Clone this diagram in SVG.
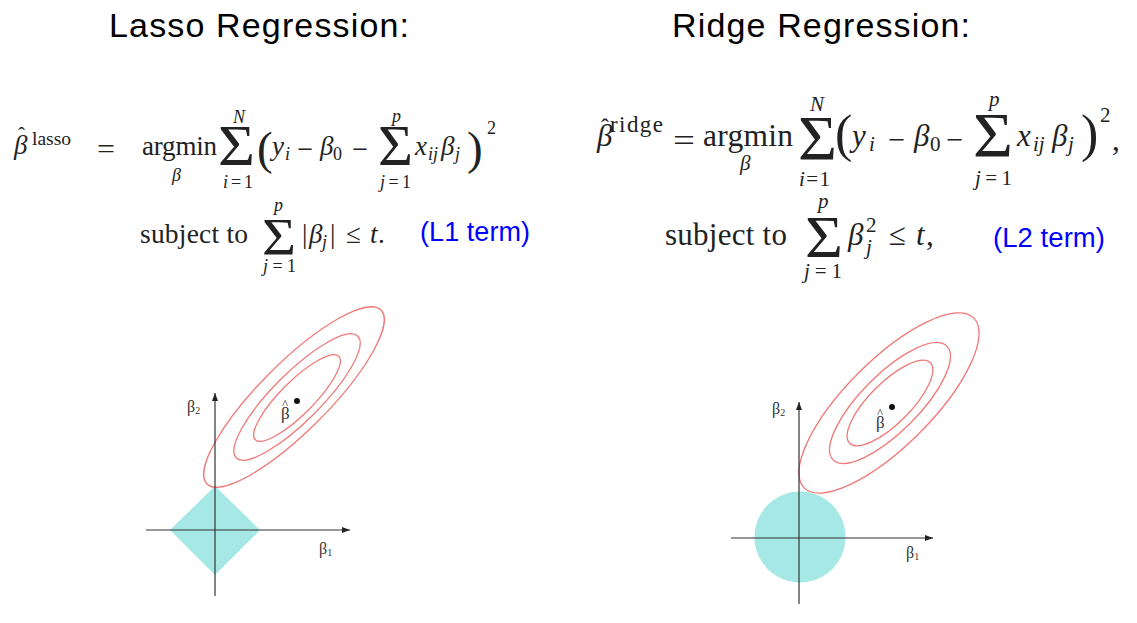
<svg xmlns="http://www.w3.org/2000/svg" width="1137" height="623" viewBox="0 0 1137 623">
<style>
.title{font-family:"Liberation Sans",Arial,sans-serif;font-size:34px;fill:#000}
.m{font-family:"Liberation Serif","Times New Roman",serif;fill:#222}
.it{font-style:italic}
.note{font-family:"Liberation Sans",Arial,sans-serif;fill:#0000ff}
.ax{stroke:#333;stroke-width:1.2;fill:none}
.ell{stroke:#f07878;stroke-width:1.3;fill:none}
.reg{fill:#a6e8e5;stroke:none}
.lbl{font-family:"Liberation Serif","Times New Roman",serif;fill:#333}
</style>
<defs>
<marker id="arr" markerWidth="9" markerHeight="7" refX="8" refY="3" orient="auto" markerUnits="userSpaceOnUse">
<path d="M0,0 L8,3 L0,6 z" fill="#222"/>
</marker>
</defs>
<rect width="1137" height="623" fill="#fff"/>

<g id="lasso-title"><text class="title" x="109" y="37" textLength="300" lengthAdjust="spacing">Lasso Regression:</text></g>
<g id="ridge-title"><text class="title" x="672" y="37" textLength="298" lengthAdjust="spacing">Ridge Regression:</text></g>

<g id="lasso-formula">
<text class="m it" x="14" y="154" font-size="27">β</text>
<text class="m" x="18" y="142" font-size="21">ˆ</text>
<text class="m" x="32" y="145" font-size="19.5" textLength="39">lasso</text>
<text class="m" x="97" y="158" font-size="27" textLength="18" lengthAdjust="spacingAndGlyphs">=</text>
<text class="m" x="142" y="155" font-size="27" textLength="75">argmin</text>
<text class="m it" x="172" y="181" font-size="18">β</text>
<text class="m" x="218" y="165" font-size="56" textLength="37" lengthAdjust="spacingAndGlyphs">Σ</text>
<text class="m it" x="233" y="123" font-size="18">N</text>
<text class="m" x="223" y="188" font-size="18" textLength="30"><tspan class="it">i</tspan>=1</text>
<text class="m" x="257" y="164" font-size="47">(</text>
<text class="m it" x="272" y="155" font-size="27">y</text>
<text class="m it" x="285" y="160" font-size="18">i</text>
<text class="m" x="297" y="158" font-size="27" textLength="16" lengthAdjust="spacingAndGlyphs">−</text>
<text class="m it" x="320" y="155" font-size="27">β</text>
<text class="m" x="333" y="160" font-size="18">0</text>
<text class="m" x="352" y="158" font-size="27" textLength="16" lengthAdjust="spacingAndGlyphs">−</text>
<text class="m" x="378" y="165" font-size="56" textLength="35" lengthAdjust="spacingAndGlyphs">Σ</text>
<text class="m it" x="392" y="122" font-size="18">p</text>
<text class="m" x="380" y="188" font-size="18" textLength="31"><tspan class="it">j</tspan>=1</text>
<text class="m it" x="415" y="155" font-size="27">x</text>
<text class="m it" x="428" y="160" font-size="18">ij</text>
<text class="m it" x="441" y="155" font-size="27">β</text>
<text class="m it" x="455" y="160" font-size="18">j</text>
<text class="m" x="467" y="164" font-size="47">)</text>
<text class="m" x="487" y="134" font-size="18">2</text>

<text class="m" x="140" y="243" font-size="27.5" textLength="108">subject to</text>
<text class="m" x="262" y="255" font-size="53" textLength="34" lengthAdjust="spacingAndGlyphs">Σ</text>
<text class="m it" x="274" y="211" font-size="18">p</text>
<text class="m" x="263" y="272" font-size="18" textLength="33"><tspan class="it">j</tspan>=1</text>
<text class="m" x="302" y="243" font-size="27">|</text>
<text class="m it" x="309" y="243" font-size="27">β</text>
<text class="m it" x="322" y="248" font-size="18">j</text>
<text class="m" x="330" y="243" font-size="27">|</text>
<text class="m" x="346" y="243" font-size="27">≤</text>
<text class="m it" x="370" y="243" font-size="27">t</text>
<text class="m" x="378" y="243" font-size="27">.</text>
</g>
<g id="lasso-note"><text class="note" x="420" y="241" font-size="27" textLength="110">(L1 term)</text></g>

<g id="ridge-formula">
<text class="m it" x="597" y="146" font-size="31">β</text>
<text class="m" x="601" y="135" font-size="24">ˆ</text>
<text class="m" x="610" y="132" font-size="23" textLength="53">ridge</text>
<text class="m" x="673" y="151" font-size="31" textLength="22" lengthAdjust="spacingAndGlyphs">=</text>
<text class="m" x="703" y="146" font-size="31.5" textLength="90">argmin</text>
<text class="m it" x="740" y="170" font-size="21">β</text>
<text class="m" x="798" y="160" font-size="63" textLength="39" lengthAdjust="spacingAndGlyphs">Σ</text>
<text class="m it" x="810" y="111" font-size="21">N</text>
<text class="m" x="799" y="186" font-size="21" textLength="31"><tspan class="it">i</tspan>=1</text>
<text class="m" x="835" y="151" font-size="52">(</text>
<text class="m it" x="852" y="146" font-size="31">y</text>
<text class="m it" x="869" y="151" font-size="21">i</text>
<text class="m" x="888" y="150" font-size="31" textLength="17" lengthAdjust="spacingAndGlyphs">−</text>
<text class="m it" x="914" y="146" font-size="31">β</text>
<text class="m" x="930" y="151" font-size="21">0</text>
<text class="m" x="946" y="150" font-size="31" textLength="17" lengthAdjust="spacingAndGlyphs">−</text>
<text class="m" x="973" y="157" font-size="63" textLength="40" lengthAdjust="spacingAndGlyphs">Σ</text>
<text class="m it" x="989" y="106" font-size="21">p</text>
<text class="m" x="975" y="185" font-size="21" textLength="37"><tspan class="it">j</tspan>=1</text>
<text class="m it" x="1017" y="146" font-size="31">x</text>
<text class="m it" x="1033" y="151" font-size="21">ij</text>
<text class="m it" x="1052" y="146" font-size="31">β</text>
<text class="m it" x="1068" y="151" font-size="21">j</text>
<text class="m" x="1081" y="151" font-size="52">)</text>
<text class="m" x="1100" y="122" font-size="21">2</text>
<text class="m" x="1112" y="150" font-size="31">,</text>

<text class="m" x="665" y="245" font-size="31" textLength="122">subject to</text>
<text class="m" x="805" y="257" font-size="59" textLength="38" lengthAdjust="spacingAndGlyphs">Σ</text>
<text class="m it" x="818" y="208" font-size="21">p</text>
<text class="m" x="804" y="278" font-size="21" textLength="38"><tspan class="it">j</tspan>=1</text>
<text class="m it" x="848" y="245" font-size="31">β</text>
<text class="m" x="866" y="232" font-size="21">2</text>
<text class="m it" x="866" y="254" font-size="21">j</text>
<text class="m" x="889" y="245" font-size="31">≤</text>
<text class="m it" x="916" y="245" font-size="31">t</text>
<text class="m" x="926" y="245" font-size="31">,</text>
</g>
<g id="ridge-note"><text class="note" x="993" y="247" font-size="27.5" textLength="112">(L2 term)</text></g>

<g id="lasso-plot">
<polygon class="reg" points="215,486 260,530 215,575 170,530"/>
<ellipse class="ell" cx="294" cy="397" rx="123" ry="34" transform="rotate(-45 294 397)"/>
<ellipse class="ell" cx="297" cy="397" rx="86" ry="24" transform="rotate(-45 297 397)"/>
<ellipse class="ell" cx="297" cy="398" rx="59" ry="16.5" transform="rotate(-45 297 398)"/>
<circle cx="297" cy="401" r="3" fill="#111"/>
<text class="lbl" x="281" y="419" font-size="17">β</text>
<text class="lbl" x="282" y="408" font-size="13">^</text>
<text class="lbl" x="187" y="412" font-size="16">β<tspan font-size="10" dy="2">2</tspan></text>
<text class="lbl" x="319" y="554" font-size="16">β<tspan font-size="10" dy="2">1</tspan></text>
</g>

<g id="ridge-plot">
<circle class="reg" cx="800" cy="537" r="45.5"/>
<ellipse class="ell" cx="889" cy="403" rx="120" ry="42.8" transform="rotate(-45 889 403)"/>
<ellipse class="ell" cx="890" cy="403" rx="80.4" ry="28.7" transform="rotate(-45 890 403)"/>
<ellipse class="ell" cx="890" cy="403" rx="57" ry="20.4" transform="rotate(-45 890 403)"/>
<circle cx="892" cy="407" r="3" fill="#111"/>
<text class="lbl" x="876" y="428" font-size="17">β</text>
<text class="lbl" x="877" y="417" font-size="13">^</text>
<text class="lbl" x="772" y="414" font-size="16">β<tspan font-size="10" dy="2">2</tspan></text>
<text class="lbl" x="906" y="558" font-size="16">β<tspan font-size="10" dy="2">1</tspan></text>
</g>

<g id="connectors">
<line class="ax" x1="215" y1="596" x2="215" y2="393" marker-end="url(#arr)"/>
<line class="ax" x1="146" y1="530" x2="350" y2="530" marker-end="url(#arr)"/>
<line class="ax" x1="799" y1="604" x2="799" y2="402" marker-end="url(#arr)"/>
<line class="ax" x1="731" y1="538" x2="933" y2="538" marker-end="url(#arr)"/>
</g>
</svg>
